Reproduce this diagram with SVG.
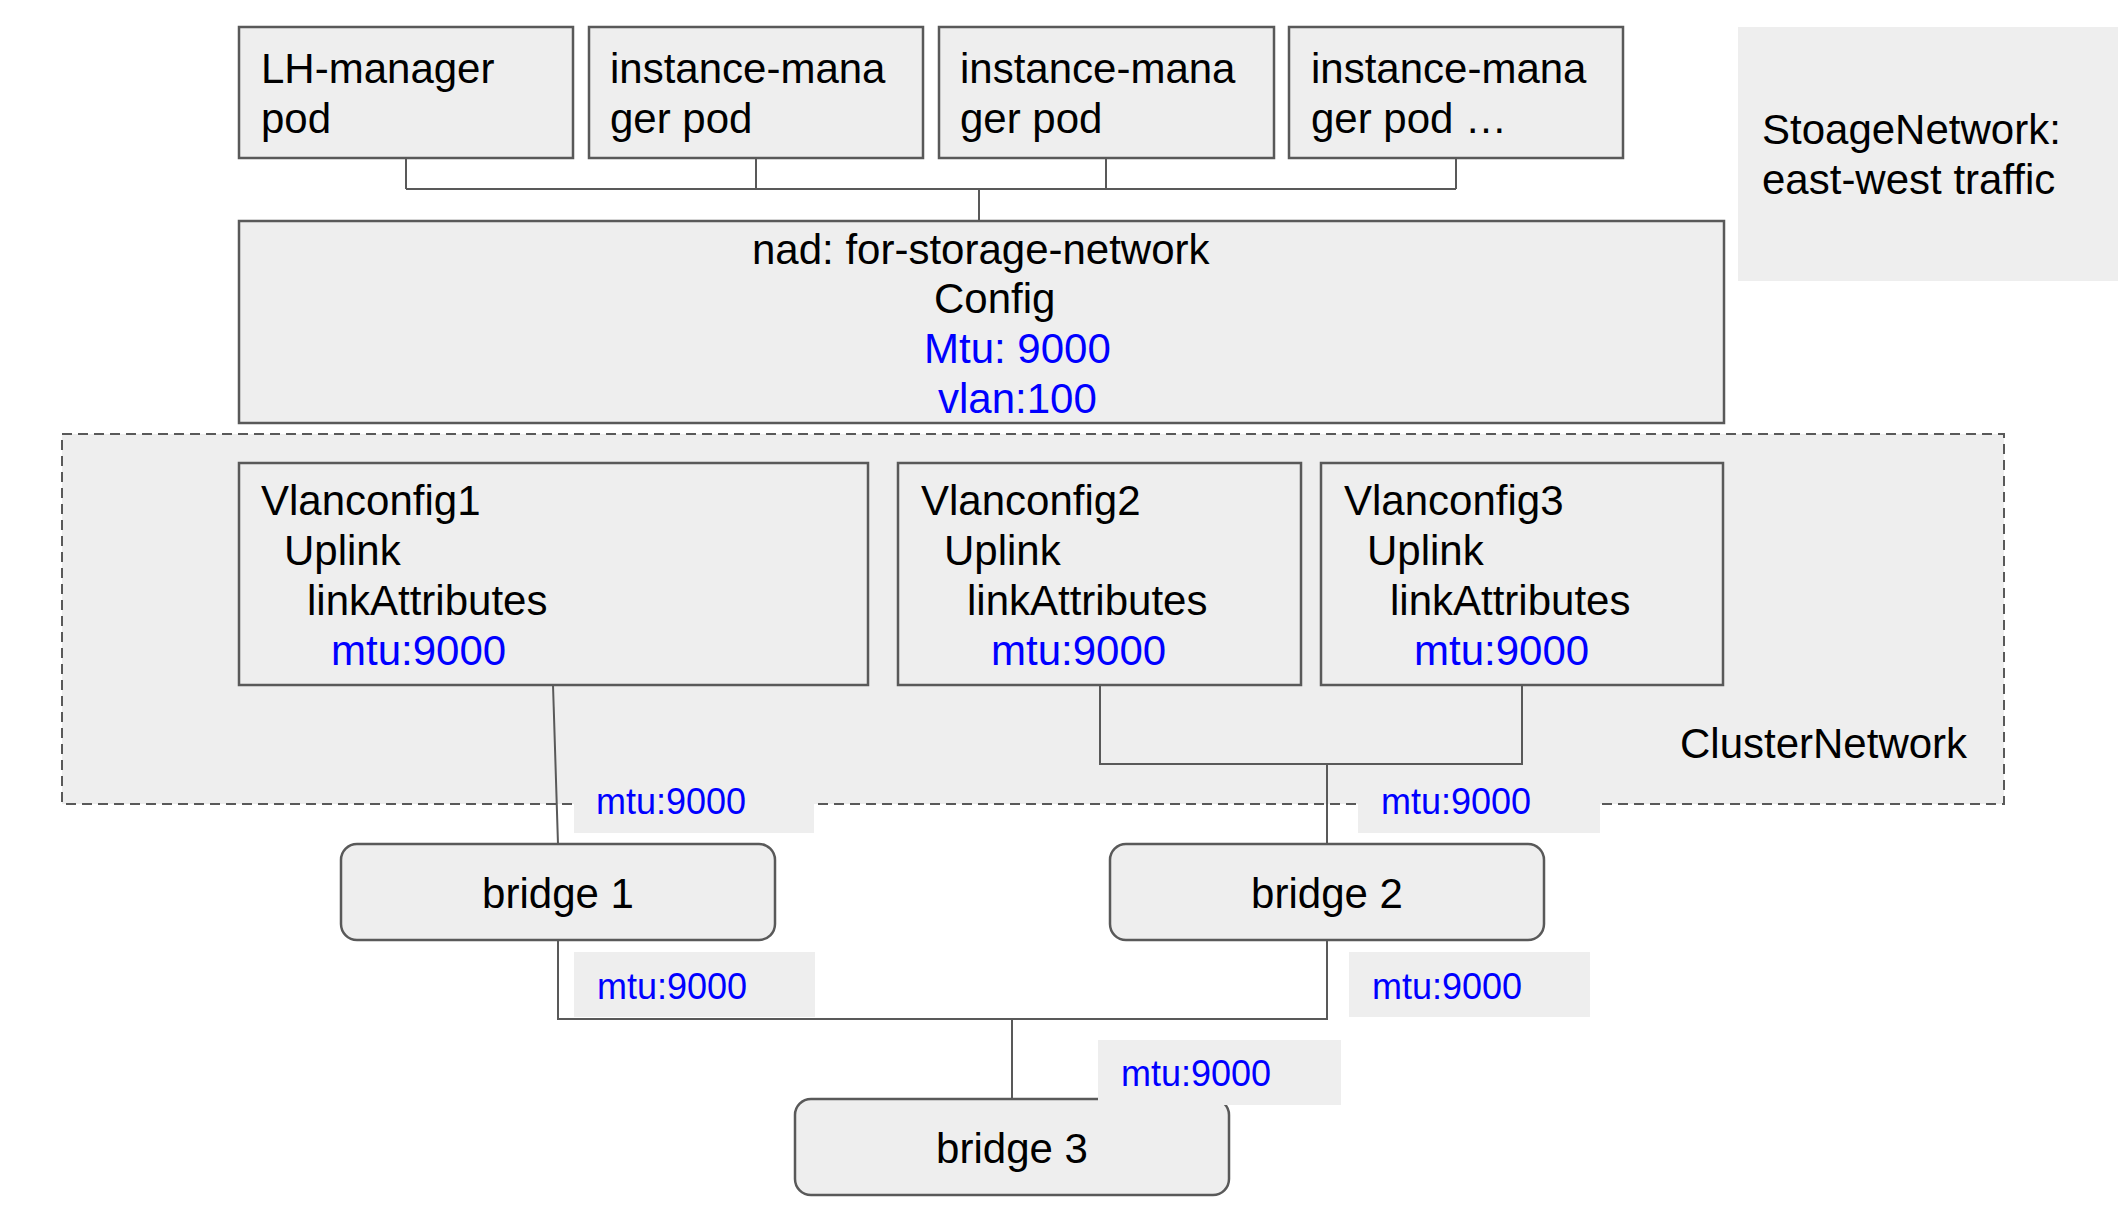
<svg xmlns="http://www.w3.org/2000/svg" width="2118" height="1206" viewBox="0 0 2118 1206">
<style>
.box{fill:#eeeeee;stroke:#595959;stroke-width:2.5}
.lbl{fill:#eeeeee;stroke:none}
.t{font-family:"Liberation Sans",Arial,sans-serif;font-size:42px;fill:#000000}
.b{fill:#0000ff}
.s{font-family:"Liberation Sans",Arial,sans-serif;font-size:36px;fill:#0000ff}
.c{fill:none;stroke:#595959;stroke-width:2}
</style>
<rect width="2118" height="1206" fill="#ffffff"/>
<g id="storage-network-note">
<rect class="lbl" x="1738" y="27" width="380" height="254"/>
<text class="t" x="1762" y="144">StoageNetwork:</text>
<text class="t" x="1762" y="194">east-west traffic</text>
</g>
<g id="cluster-network">
<rect x="62" y="434" width="1942" height="370" fill="#eeeeee" stroke="#595959" stroke-width="2" stroke-dasharray="10 6"/>
<text class="t" x="1680" y="758">ClusterNetwork</text>
</g>
<g id="connectors">
<path class="c" d="M406 158V189M756 158V189M1106 158V189M1456 158V189M406 189H1456M979 189V221"/>
<path class="c" d="M553 685L558 844"/>
<path class="c" d="M1100 685V764H1522V685M1327 764V844"/>
<path class="c" d="M558 940V1019H1327V940M1012 1019V1099"/>
</g>
<g id="lh-manager-pod">
<rect class="box" x="239" y="27" width="334" height="131"/>
<text class="t" x="261" y="83">LH-manager</text>
<text class="t" x="261" y="133">pod</text>
</g>
<g id="instance-manager-pod-1">
<rect class="box" x="589" y="27" width="334" height="131"/>
<text class="t" x="610" y="83">instance-mana</text>
<text class="t" x="610" y="133">ger pod</text>
</g>
<g id="instance-manager-pod-2">
<rect class="box" x="939" y="27" width="335" height="131"/>
<text class="t" x="960" y="83">instance-mana</text>
<text class="t" x="960" y="133">ger pod</text>
</g>
<g id="instance-manager-pod-3">
<rect class="box" x="1289" y="27" width="334" height="131"/>
<text class="t" x="1311" y="83">instance-mana</text>
<text class="t" x="1311" y="133">ger pod …</text>
</g>
<g id="nad">
<rect class="box" x="239" y="221" width="1485" height="202"/>
<text class="t" x="752" y="264">nad: for-storage-network</text>
<text class="t" x="934" y="313">Config</text>
<text class="t b" x="924" y="363">Mtu: 9000</text>
<text class="t b" x="938" y="413">vlan:100</text>
</g>
<g id="vlanconfig1">
<rect class="box" x="239" y="463" width="629" height="222"/>
<text class="t" x="261" y="515">Vlanconfig1</text>
<text class="t" x="284" y="565">Uplink</text>
<text class="t" x="307" y="615">linkAttributes</text>
<text class="t b" x="331" y="665">mtu:9000</text>
</g>
<g id="vlanconfig2">
<rect class="box" x="898" y="463" width="403" height="222"/>
<text class="t" x="921" y="515">Vlanconfig2</text>
<text class="t" x="944" y="565">Uplink</text>
<text class="t" x="967" y="615">linkAttributes</text>
<text class="t b" x="991" y="665">mtu:9000</text>
</g>
<g id="vlanconfig3">
<rect class="box" x="1321" y="463" width="402" height="222"/>
<text class="t" x="1344" y="515">Vlanconfig3</text>
<text class="t" x="1367" y="565">Uplink</text>
<text class="t" x="1390" y="615">linkAttributes</text>
<text class="t b" x="1414" y="665">mtu:9000</text>
</g>
<g id="label-vc1-bridge1">
<rect class="lbl" x="574" y="770" width="240" height="63"/>
<text class="s" x="596" y="814">mtu:9000</text>
</g>
<g id="label-vc23-bridge2">
<rect class="lbl" x="1358" y="770" width="242" height="63"/>
<text class="s" x="1381" y="814">mtu:9000</text>
</g>
<g id="bridge1">
<rect class="box" x="341" y="844" width="434" height="96" rx="16"/>
<text class="t" x="558" y="908" text-anchor="middle">bridge 1</text>
</g>
<g id="bridge2">
<rect class="box" x="1110" y="844" width="434" height="96" rx="16"/>
<text class="t" x="1327" y="908" text-anchor="middle">bridge 2</text>
</g>
<g id="label-bridge1-bridge3">
<rect class="lbl" x="574" y="952" width="241" height="65"/>
<text class="s" x="597" y="999">mtu:9000</text>
</g>
<g id="label-bridge2-bridge3">
<rect class="lbl" x="1349" y="952" width="241" height="65"/>
<text class="s" x="1372" y="999">mtu:9000</text>
</g>
<g id="bridge3">
<rect class="box" x="795" y="1099" width="434" height="96" rx="16"/>
<text class="t" x="1012" y="1163" text-anchor="middle">bridge 3</text>
</g>
<g id="label-bridge3">
<rect class="lbl" x="1098" y="1040" width="243" height="65"/>
<text class="s" x="1121" y="1086">mtu:9000</text>
</g>
</svg>
